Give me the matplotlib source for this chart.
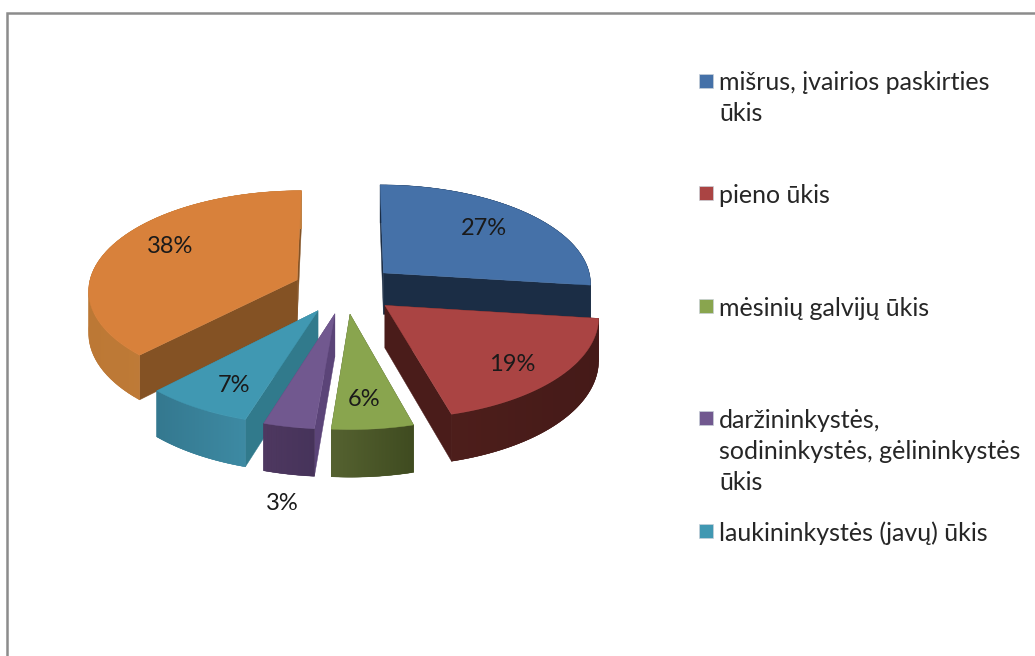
import numpy as np
import matplotlib.pyplot as plt
from matplotlib.patches import Polygon, Rectangle

plt.rcParams['font.family'] = ['Lato', 'DejaVu Sans']

# estimated shares, the printed labels are the rounded ones
values = [27, 18.7, 5.6, 3.5, 7.4, 37.8]
pct_labels = ['27%', '19%', '6%', '3%', '7%', '38%']
legend_labels = [
    'mišrus, įvairios paskirties\nūkis',
    'pieno ūkis',
    'mėsinių galvijų ūkis',
    'daržininkystės,\nsodininkystės, gėlininkystės\nūkis',
    'laukininkystės (javų) ūkis',
]

top_colors = ['#4571a8', '#aa4443', '#89a54e', '#71588f', '#4098b2', '#d8813b']
inner_colors = ['#1b2d45', '#4a1c1a', '#4a5628', '#5b4478', '#317a8c', '#845224']
outer_left = ['#1b2d45', '#4d1e1b', '#556230', '#4e3860', '#34788f', '#bc7835']
outer_right = ['#1b2d45', '#451a18', '#3f4b20', '#46335a', '#3d8aa3', '#c4803c']
draw_order = [5, 0, 1, 4, 3, 2]
# label place along the slice middle, as share of radius, then a nudge in pixels
label_r = [0.62, 0.66, 0.62, 1.42, 0.66, 0.66]
label_dx = [10, 15, 0, 16, -7, -4]
label_dy = [-6, 13, 17, 22, 13, -10]

CX, CY = 345, 289
R = 209
Q = 0.475
P = 0.095
DEPTH = 42
EXPLODE = 52


def project(x, y, z=0):
    s = 1 / (1 + P * y / R)
    return CX + x * s, CY - Q * y * s + z * s


def rgb(c):
    return np.array(plt.matplotlib.colors.to_rgb(c))


fig = plt.figure(figsize=(10.35, 6.56), dpi=100)
ax = fig.add_axes([0, 0, 1, 1])
ax.set_xlim(0, 1035)
ax.set_ylim(656, 0)
ax.axis('off')

# chart frame
ax.plot([7, 7, 1035], [656, 13, 13], color='#8c8c8c', linewidth=1.8, solid_joinstyle='miter')

edges = np.cumsum([0] + values) / sum(values) * 360

for i in draw_order:
    a0, a1 = np.radians(edges[i]), np.radians(edges[i + 1])
    mid = (a0 + a1) / 2
    ox, oy = EXPLODE * np.sin(mid), EXPLODE * np.cos(mid)
    th = np.linspace(a0, a1, 61)
    ax_x = ox + R * np.sin(th)
    ax_y = oy + R * np.cos(th)

    # radial walls
    for a in (a0, a1):
        ex, ey = ox + R * np.sin(a), oy + R * np.cos(a)
        pts = [project(ox, oy), project(ex, ey), project(ex, ey, DEPTH), project(ox, oy, DEPTH)]
        ax.add_patch(Polygon(pts, closed=True, facecolor=inner_colors[i], edgecolor=inner_colors[i], linewidth=0.3))

    # outer wall: one solid piece under the strips so no seams show
    xs_t, ys_t = project(ax_x, ax_y)
    xs_b, ys_b = project(ax_x, ax_y, DEPTH)
    left, right = rgb(outer_left[i]), rgb(outer_right[i])
    wall = list(zip(xs_t, ys_t)) + list(zip(xs_b[::-1], ys_b[::-1]))
    ax.add_patch(Polygon(wall, closed=True, facecolor=(left + right) / 2, edgecolor=(left + right) / 2, linewidth=0.3))
    xmin, xmax = xs_t.min(), xs_t.max()
    for k in range(0, len(th) - 1):
        t = ((xs_t[k] + xs_t[k + 1]) / 2 - xmin) / (xmax - xmin)
        col = left + (right - left) * t
        k2 = min(k + 2, len(th) - 1)
        pts = [(xs_t[k], ys_t[k]), (xs_t[k2], ys_t[k2]), (xs_b[k2], ys_b[k2]), (xs_b[k], ys_b[k])]
        ax.add_patch(Polygon(pts, closed=True, facecolor=col, edgecolor='none', linewidth=0))

    # top face
    top = [project(ox, oy)] + list(zip(xs_t, ys_t))
    ax.add_patch(Polygon(top, closed=True, facecolor=top_colors[i], edgecolor=top_colors[i], linewidth=0.3))

for i in range(len(values)):
    mid = np.radians((edges[i] + edges[i + 1]) / 2)
    lx = EXPLODE * np.sin(mid) + label_r[i] * R * np.sin(mid)
    ly = EXPLODE * np.cos(mid) + label_r[i] * R * np.cos(mid)
    px, py = project(lx, ly)
    ax.text(px + label_dx[i], py + label_dy[i], pct_labels[i], fontsize=17, color='#1a1a1a', ha='center', va='center')

# legend, the last slice has no entry in the picture
for i, lab in enumerate(legend_labels):
    y = 80.5 + 112.5 * i
    ax.add_patch(Rectangle((698.5, y - 7), 14, 14, facecolor=top_colors[i], edgecolor='#c8d0d8', linewidth=0.5))
    ax.text(719, y - 9, lab, fontsize=18, color='#262626', ha='left', va='top', linespacing=1.42)

fig.savefig('out.png', dpi=100)
